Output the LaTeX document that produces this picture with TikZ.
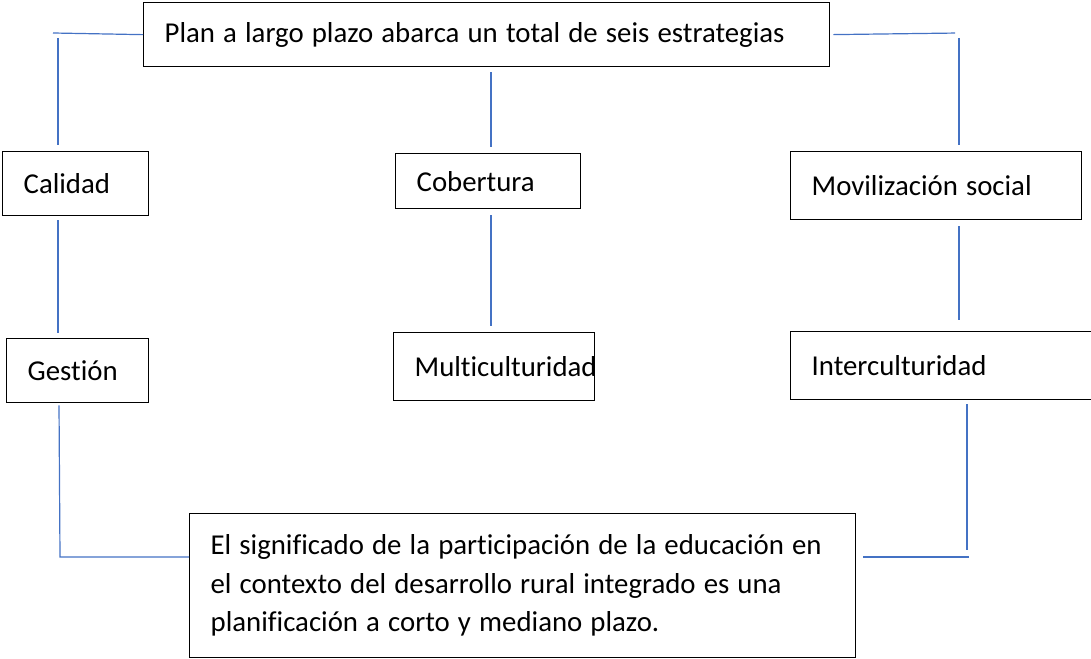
\documentclass[tikz,border=0pt]{standalone}
\usepackage{fontspec}
\setmainfont{Carlito}[RawFeature={-liga;-clig;-dlig}, WordSpace={1.25,0,0}]
\usepackage{xcolor,tikz}
\usetikzlibrary{calc,positioning}
\definecolor{linkblue}{HTML}{4472C4}
\tikzset{>=stealth}
\tikzset{
  box/.style={draw=black, line width=1.3pt, anchor=north west, align=flush left,
    inner xsep=21pt, inner ysep=0pt, font=\fontsize{28.8pt}{38.5pt}\selectfont},
  link/.style={draw=linkblue, line width=1.2pt}
}

\begin{document}
\begin{tikzpicture}[x=1pt,y=-1pt]
\clip (0,0) rectangle (1091,658);
\node[box, text width=644pt, minimum height=64pt] (plan) at (143,2) {Plan a largo plazo abarca un total de seis estrategias};
\node[box, text width=104pt, minimum height=64pt] (calidad) at (2,151) {Calidad};
\node[box, text width=143pt, minimum height=55pt] (cobertura) at (395,153) {Cobertura};
\node[box, text width=249pt, minimum height=68pt] (movil) at (790,151) {Movilización social};
\node[box, text width=100pt, minimum height=64pt] (gestion) at (6,338) {Gestión};
\node[box, text width=159pt, minimum height=68pt] (multi) at (393,332) {Multiculturidad};
\node[box, text width=268pt, minimum height=68pt] (inter) at (790,331) {Interculturidad};
\node[box, text width=624pt, minimum height=144pt] (texto) at (189,513) {El significado de la participación de la educación en\\el contexto del desarrollo rural integrado es una\\planificación a corto y mediano plazo.};
\coordinate (ltop) at (53,33);
\coordinate (lbot) at (60,557);
\coordinate (rtop) at (959,33);
\coordinate (rbot) at (967,557);
\coordinate (mid) at (491,0);
% left side
\draw[link] (plan.west) -- (ltop);
\draw[link, shorten <=5pt, shorten >=6pt] ([xshift=5pt]ltop) -- ([xshift=5pt]ltop |- calidad.north);
\draw[link, shorten <=4pt, shorten >=5pt] ([xshift=5pt]ltop |- calidad.south) -- ([xshift=5pt]ltop |- gestion.north);
\draw[link, shorten <=2pt] ([xshift=6pt]ltop |- gestion.south) -- (lbot) -- (lbot -| texto.west);
% middle
\draw[link, shorten <=5pt, shorten >=6pt] (mid |- plan.south) -- (mid |- cobertura.north);
\draw[link, shorten <=6pt, shorten >=6pt] (mid |- cobertura.south) -- (mid |- multi.north);
% right side
\draw[link, shorten <=3pt, shorten >=4pt] (plan.east) -- (rtop);
\draw[link, shorten <=5pt, shorten >=6pt] (rtop) -- (rtop |- movil.north);
\draw[link, shorten <=6pt, shorten >=11pt] (rtop |- movil.south) -- (rtop |- inter.north);
\draw[link, shorten <=4pt, shorten >=7pt] (rbot |- inter.south) -- (rbot);
\draw[link, shorten >=7pt] ([xshift=2pt]rbot) -- (rbot -| texto.east);
\end{tikzpicture}
\end{document}
